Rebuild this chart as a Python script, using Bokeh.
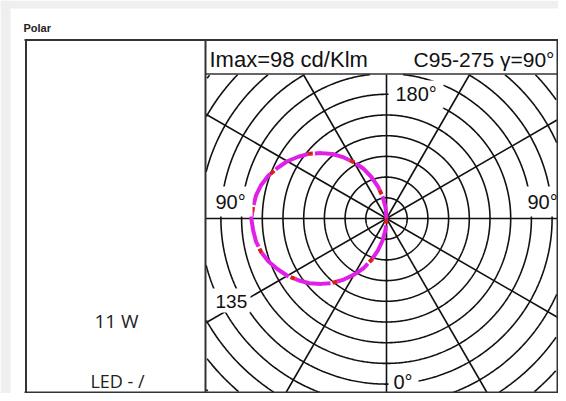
import numpy as np
from bokeh.plotting import figure
from bokeh.models import Range1d
from bokeh.embed import file_html
from bokeh.resources import INLINE
from bokeh.core.properties import value

# ---------------- data ----------------
gamma_deg = [0, 5, 10, 15, 20, 25, 30, 35, 40, 45, 50, 55, 60, 65, 70, 75, 80, 85, 90,
             95, 100, 105, 110, 115, 120, 125, 130, 135, 140, 145, 150, 155, 160, 165, 170, 175, 180]
c275_cd_klm = [0, 8, 16, 24, 32, 40, 47, 54, 61, 67, 73, 78, 83, 87, 91, 94, 96, 97, 98,
               97, 96, 94, 91, 87, 83, 78, 73, 67, 61, 54, 47, 40, 32, 24, 16, 8, 0]
c275b_cd_klm = list(c275_cd_klm)   # second trace (red), coincident
circle_step = 15          # cd/klm per ring
n_rings = 12
ray_angles_deg = [0, 30, 60, 90, 120, 150, 180, 210, 240, 270, 300, 330]
title_text = "Polar"
header_left = "Imax=98 cd/Klm"
header_right = "C95-275 \u03b3=90\u00b0"
label_180 = "180\u00b0"
label_90 = "90\u00b0"
label_135 = "135"
label_0 = "0\u00b0"
power_text = "11 W"
lamp_text = "LED - /"

# ---------------- layout helpers (picture px -> data) ----------------
CXP, CYP = 386.0, 218.0
K = 20.7 / circle_step      # px per cd/klm
W, H = 558, 393
BOX_L, BOX_R, BOX_T, BOX_B = 205.5, 556.5, 74.0, 392.0   # polar area (px)


def X(px):
    return (px - CXP) / K


def Y(py):
    return (CYP - py) / K


xl, xr, yt, yb_ = X(BOX_L), X(BOX_R), Y(BOX_T), Y(BOX_B)


def inside(x, y):
    return (x >= xl) & (x <= xr) & (y <= yt) & (y >= yb_)


p = figure(width=W, height=H, output_backend="svg", toolbar_location=None,
           x_range=Range1d(X(0), X(W)), y_range=Range1d(Y(H), Y(0)),
           min_border=0, min_border_left=0, min_border_right=0,
           min_border_top=0, min_border_bottom=0)
p.axis.visible = False
p.grid.visible = False
p.outline_line_color = None
p.background_fill_color = "white"
p.border_fill_color = "white"

INK = "#111111"
GRAY = "#efefef"

# grey page strips
strips = [(0, 10, 0, H), (0, W, 0, 8)]
p.quad(left=[X(c[0]) for c in strips], right=[X(c[1]) for c in strips],
       top=[Y(c[2]) for c in strips], bottom=[Y(c[3]) for c in strips],
       fill_color=GRAY, line_color=None)

# rings, kept to the polar box
t = np.radians(np.arange(0, 360.01, 0.5))
ring_xs, ring_ys = [], []
for i in range(n_rings):
    r = circle_step * (i + 1)
    x = r * np.cos(t)
    y = r * np.sin(t)
    m = inside(x, y)
    # split into contiguous runs
    idx = np.where(m)[0]
    if len(idx) == 0:
        continue
    breaks = np.where(np.diff(idx) > 1)[0]
    starts = np.r_[0, breaks + 1]
    ends = np.r_[breaks, len(idx) - 1]
    runs = [idx[s:e + 1] for s, e in zip(starts, ends)]
    # join wrap-around run
    if len(runs) > 1 and runs[0][0] == 0 and runs[-1][-1] == len(t) - 1:
        runs[0] = np.r_[runs[-1], runs[0]]
        runs = runs[:-1]
    for rr in runs:
        ring_xs.append(list(x[rr]))
        ring_ys.append(list(y[rr]))
p.multi_line(ring_xs, ring_ys, line_color=INK, line_width=1.6)

# rays from centre to the box edge
a = np.radians(ray_angles_deg)
ends_x, ends_y = [], []
for ang in a:
    c, s = np.cos(ang), np.sin(ang)
    cands = []
    if c > 1e-9:
        cands.append(xr / c)
    if c < -1e-9:
        cands.append(xl / c)
    if s > 1e-9:
        cands.append(yt / s)
    if s < -1e-9:
        cands.append(yb_ / s)
    d = min(cands)
    ends_x.append(d * c)
    ends_y.append(d * s)
p.segment(x0=[0] * len(a), y0=[0] * len(a), x1=ends_x, y1=ends_y,
          line_color=INK, line_width=1.6)

# intensity curves (gamma measured from straight down, C275 on the left)
g = np.radians(gamma_deg)
xa = -np.array(c275_cd_klm) * np.sin(g)
ya = -np.array(c275_cd_klm) * np.cos(g)
xb = -np.array(c275b_cd_klm) * np.sin(g)
yb = -np.array(c275b_cd_klm) * np.cos(g)
p.line(xb, yb, line_color="#e01c1c", line_width=4, line_dash="5 38", line_dash_offset=0)
p.line(xa, ya, line_color="#e020e6", line_width=4, line_dash="36 7", line_dash_offset=36)

# label backgrounds
covers = [
    (388, 443, 80, 108),
    (388, 418, 370, 391),
    (521, 556, 186, 216),
    (207, 252, 186, 216),
    (210, 250, 288, 312),
]
p.quad(left=[X(c[0]) for c in covers], right=[X(c[1]) for c in covers],
       top=[Y(c[2]) for c in covers], bottom=[Y(c[3]) for c in covers],
       fill_color="white", line_color=None)

# frame lines
BOX = "#333333"
BOT = 392
segs = [
    (24, 39.5, 557.5, 39.5, 2),
    (24, BOT, 557.5, BOT, 2),
    (25.5, 39.5, 25.5, BOT, 2),
    (557, 39.5, 557, BOT, 2),
    (205, 39.5, 205, BOT, 2),
    (205, 73.5, 557, 73.5, 1.6),
]
p.segment(x0=[X(s[0]) for s in segs], y0=[Y(s[1]) for s in segs],
          x1=[X(s[2]) for s in segs], y1=[Y(s[3]) for s in segs],
          line_color=BOX, line_width=[s[4] for s in segs])


def txt(px, py, s, size, font="Liberation Sans", align="left", style="normal", color="#111111"):
    # py is the vertical middle of the text
    p.text(x=[X(px)], y=[Y(py)], text=[s], text_font=value(font),
           text_font_size=value(f"{size}px"), text_align=align,
           text_baseline="middle", text_color=color, text_font_style=style)


txt(23, 27.5, title_text, 11, style="bold", color="#222222")
txt(209, 58.5, header_left, 22)
txt(554, 58.5, header_right, 21, align="right")
txt(395, 93.5, label_180, 20)
txt(527, 201, label_90, 20)
txt(215, 201, label_90, 20)
txt(215, 300.5, label_135, 19)
txt(393, 381, label_0, 20)
txt(116, 320, power_text, 19, font="Open Sans", align="center", color="#222222")
txt(117, 380, lamp_text, 18, font="Open Sans", align="center", color="#222222")

open("out.html", "w").write(file_html(p, INLINE))
